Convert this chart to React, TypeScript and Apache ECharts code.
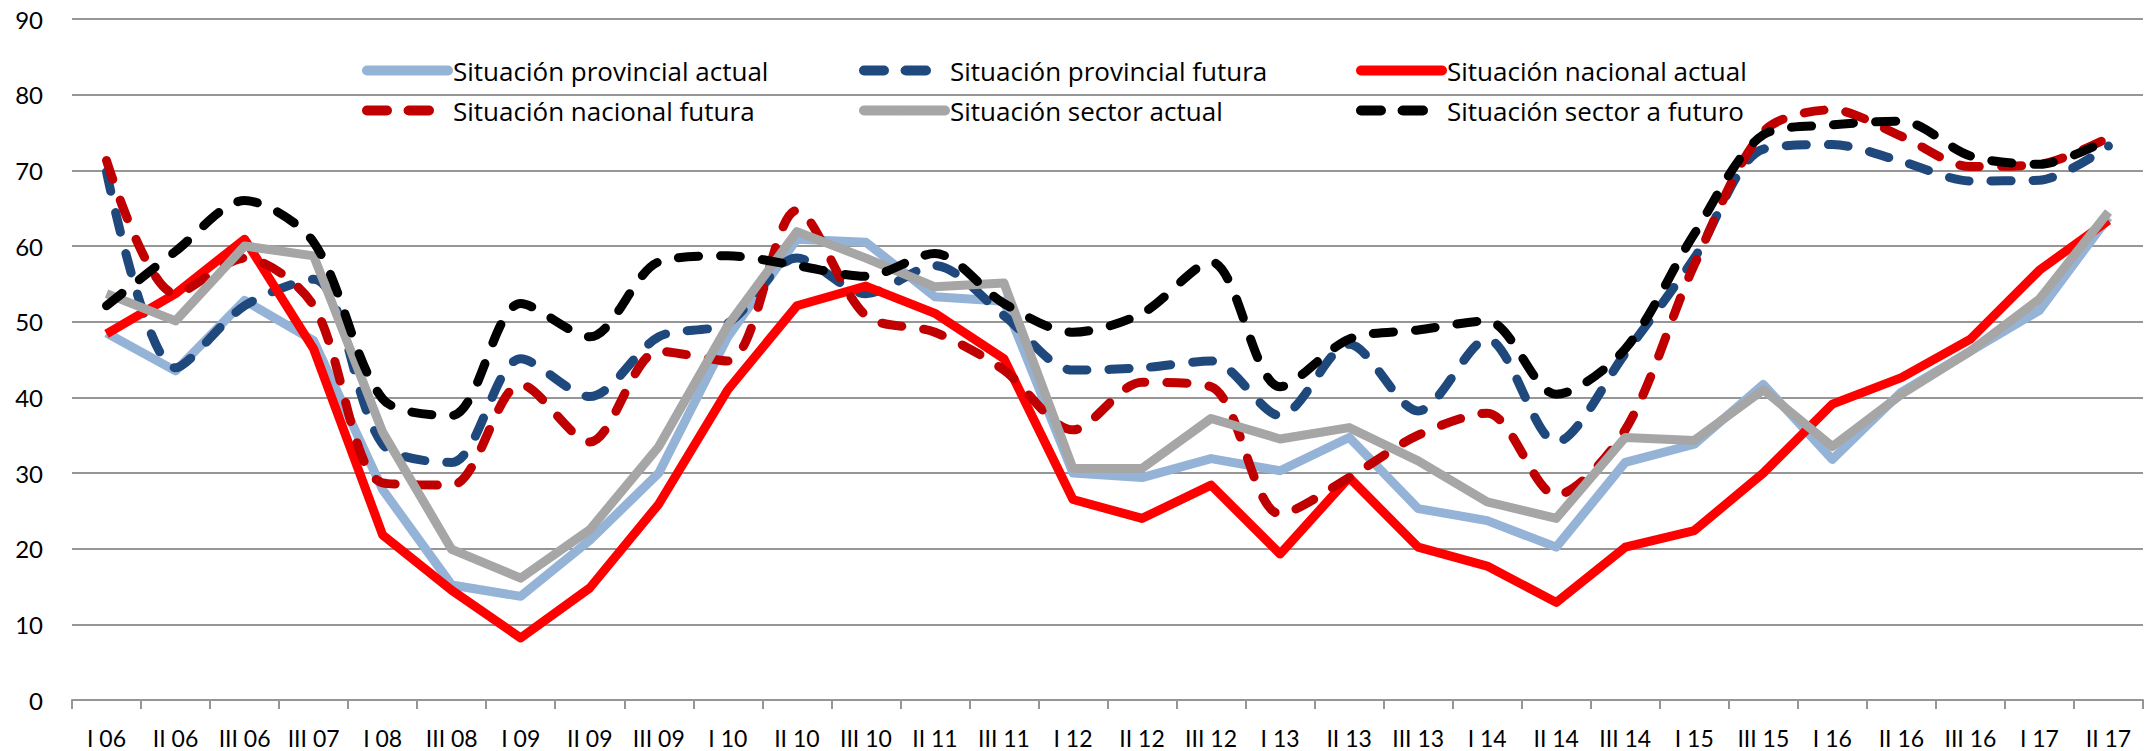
import React, { useEffect, useRef } from "react";
import * as echarts from "echarts";

const categories = ["I 06","II 06","III 06","III 07","I 08","III 08","I 09","II 09","III 09","I 10","II 10","III 10","II 11","III 11","I 12","II 12","III 12","I 13","II 13","III 13","I 14","II 14","III 14","I 15","III 15","I 16","II 16","III 16","I 17","II 17"];

const yTicks = { min: 0, max: 90, interval: 10 };

const provincialActual = [48.5, 43.5, 52.8, 47.5, 27.8, 15.2, 13.7, 21.1, 30.0, 48.0, 60.9, 60.5, 53.3, 52.7, 30.0, 29.4, 31.9, 30.3, 34.7, 25.3, 23.7, 20.2, 31.4, 33.8, 41.7, 31.8, 40.7, 46.1, 51.5, 63.8];
const provincialFutura = [69.8, 43.9, 52.1, 55.6, 33.8, 31.4, 45.1, 40.1, 48.0, 49.8, 58.4, 53.7, 57.4, 50.8, 43.6, 43.9, 44.8, 37.6, 47.0, 38.2, 47.7, 34.1, 45.8, 58.4, 72.8, 73.4, 71.2, 68.6, 68.7, 73.2];
const nacionalActual = [48.4, 53.7, 60.9, 46.4, 21.8, 14.5, 8.2, 14.8, 25.9, 41.0, 52.1, 54.7, 51.1, 45.1, 26.5, 24.0, 28.4, 19.3, 29.4, 20.2, 17.7, 12.9, 20.2, 22.4, 30.0, 39.1, 42.6, 47.7, 56.8, 63.4];
const nacionalFutura = [71.3, 53.7, 58.4, 52.1, 28.7, 28.4, 41.7, 34.1, 46.1, 44.8, 64.7, 50.8, 48.6, 43.6, 35.7, 42.0, 41.4, 24.6, 29.4, 35.0, 37.9, 27.1, 35.7, 57.5, 75.1, 78.0, 74.5, 70.5, 70.8, 74.3];
const sectorActual = [53.7, 50.1, 60.0, 58.7, 35.4, 19.9, 16.1, 22.5, 33.5, 49.5, 61.9, 58.4, 54.6, 55.1, 30.6, 30.6, 37.2, 34.5, 36.0, 31.6, 26.2, 24.0, 34.7, 34.3, 41.0, 33.5, 40.4, 46.1, 53.0, 64.5];
const sectorFuturo = [52.1, 59.3, 66.0, 60.5, 39.8, 37.6, 52.4, 48.0, 57.9, 58.7, 57.4, 56.0, 59.0, 52.4, 48.6, 51.1, 57.9, 41.4, 47.7, 48.9, 50.1, 40.4, 46.4, 61.6, 74.7, 76.0, 76.5, 71.9, 70.8, 74.1];

const seriesDefs = [
  { name: "Situación provincial actual", data: provincialActual, color: "#95B3D7", dashed: false },
  { name: "Situación provincial futura", data: provincialFutura, color: "#1F497D", dashed: true },
  { name: "Situación nacional actual", data: nacionalActual, color: "#FF0000", dashed: false },
  { name: "Situación nacional futura", data: nacionalFutura, color: "#C00000", dashed: true },
  { name: "Situación sector actual", data: sectorActual, color: "#A6A6A6", dashed: false },
  { name: "Situación sector a futuro", data: sectorFuturo, color: "#000000", dashed: true },
];

const FONT = "Lato";
const LEGEND_FONT = "Open Sans";

export default function App() {
  const ref = useRef<HTMLDivElement>(null);
  useEffect(() => {
    document.body.style.margin = "0";
    if (!ref.current) return;
    const chart = echarts.init(ref.current, null, { renderer: "svg" });
    chart.setOption({
      animation: false,
      backgroundColor: "#FFFFFF",
      grid: { left: 72, right: 1, top: 19, bottom: 51, containLabel: false },
      legend: {
        left: 362,
        top: 56,
        width: 1600,
        padding: 0,
        itemWidth: 81,
        itemHeight: 10,
        itemGap: 11,
        selectedMode: false,
        lineStyle: { width: 10, cap: "round" },
        textStyle: { fontFamily: LEGEND_FONT, fontSize: 26, color: "#000000", width: 395, lineHeight: 29 },
        data: seriesDefs.map((s) => s.name),
      },
      xAxis: {
        type: "category",
        data: categories,
        boundaryGap: true,
        axisLine: { show: true, lineStyle: { color: "#969696", width: 2 } },
        axisTick: { show: true, length: 9, lineStyle: { color: "#969696", width: 2 } },
        axisLabel: { interval: 0, fontFamily: FONT, fontSize: 23, color: "#000000", margin: 26 },
        splitLine: { show: false },
      },
      yAxis: {
        type: "value",
        min: yTicks.min,
        max: yTicks.max,
        interval: yTicks.interval,
        axisLine: { show: false },
        axisTick: { show: false },
        axisLabel: { fontFamily: FONT, fontSize: 24, color: "#000000", margin: 29 },
        splitLine: { show: true, lineStyle: { color: "#969696", width: 2 } },
      },
      series: seriesDefs.map((s) => ({
        name: s.name,
        type: "line",
        data: s.data,
        symbol: "none",
        smooth: s.dashed ? 0.3 : false,
        itemStyle: { color: s.color },
        lineStyle: {
          color: s.color,
          width: 9,
          type: s.dashed ? [20, 22] : "solid",
          cap: s.dashed ? "round" : "butt",
          join: "round",
        },
        emphasis: { disabled: true },
      })),
    });
    return () => chart.dispose();
  }, []);
  return <div ref={ref} style={{ width: 2144, height: 751 }} />;
}
